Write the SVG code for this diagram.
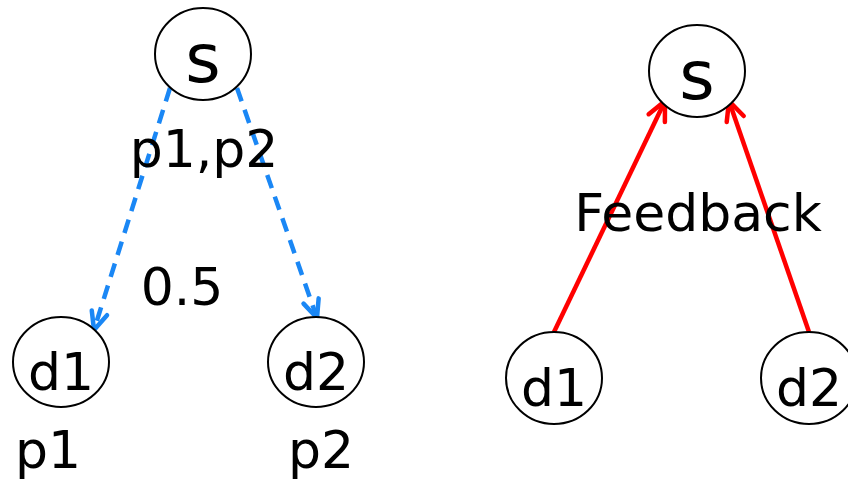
<svg xmlns="http://www.w3.org/2000/svg" width="848" height="481" viewBox="0 0 848 481">
<style>
.n{fill:#fff;stroke:#000;stroke-width:2}
.t{font-family:"DejaVu Sans",sans-serif;font-size:52px;fill:#000}
.s{font-size:68px}
.b{stroke:#1a87f5;stroke-width:4.5;fill:none;stroke-dasharray:14 9}
.r{stroke:#ff0000;stroke-width:4.5;fill:none}
</style>
<defs>
<marker id="ab" markerUnits="userSpaceOnUse" markerWidth="40" markerHeight="40" refX="0" refY="0" orient="auto" overflow="visible">
<path d="M-18,-8 L0,0 L-18,8" fill="none" stroke="#1a87f5" stroke-width="4.5" stroke-linecap="round" stroke-linejoin="round"/>
</marker>
<marker id="ar" markerUnits="userSpaceOnUse" markerWidth="40" markerHeight="40" refX="0" refY="0" orient="auto" overflow="visible">
<path d="M-19,-9 L0,0 L-19,9" fill="none" stroke="#ff0000" stroke-width="4.5" stroke-linecap="round" stroke-linejoin="round"/>
</marker>
</defs>
<g id="connectors">
<path class="b" d="M170,88 L94,330" marker-end="url(#ab)"/>
<path class="b" d="M237,88 L317,318" marker-end="url(#ab)"/>
<path class="r" d="M554,332 L665,101" marker-end="url(#ar)"/>
<path class="r" d="M809,332 L729,101" marker-end="url(#ar)"/>
</g>
<g id="s1"><ellipse class="n" cx="203" cy="54" rx="48" ry="46"/><text class="t s" x="203" y="82" text-anchor="middle">s</text></g>
<g id="d1a"><ellipse class="n" cx="61" cy="362" rx="48" ry="45"/><text class="t" x="61" y="390" text-anchor="middle">d1</text></g>
<g id="d2a"><ellipse class="n" cx="316" cy="362" rx="48" ry="45"/><text class="t" x="316" y="390" text-anchor="middle">d2</text></g>
<g id="s2"><ellipse class="n" cx="697" cy="71" rx="48" ry="46"/><text class="t s" x="697" y="99" text-anchor="middle">s</text></g>
<g id="d1b"><ellipse class="n" cx="554" cy="378" rx="48" ry="46"/><text class="t" x="554" y="406" text-anchor="middle">d1</text></g>
<g id="d2b"><ellipse class="n" cx="809" cy="378" rx="48" ry="46"/><text class="t" x="809" y="406" text-anchor="middle">d2</text></g>
<g id="labels">
<text class="t" x="204" y="167" text-anchor="middle">p1,p2</text>
<text class="t" x="182" y="305" text-anchor="middle">0.5</text>
<text class="t" x="48" y="468" text-anchor="middle">p1</text>
<text class="t" x="321" y="468" text-anchor="middle">p2</text>
<text class="t" x="698" y="231" text-anchor="middle">Feedback</text>
</g>
</svg>
